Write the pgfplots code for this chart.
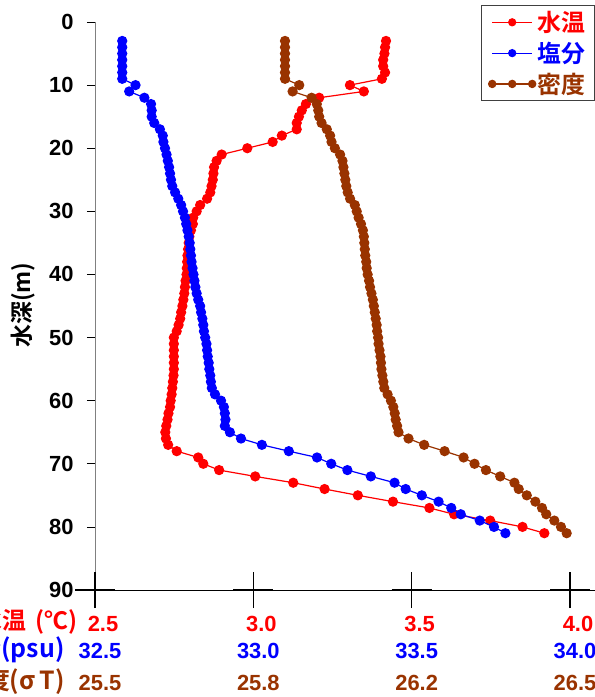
\documentclass[border=0pt]{standalone}
\usepackage{pgfplots}
\usepackage{pgfplotstable}
\pgfplotsset{compat=1.18}
\usepackage{fontspec}
\setmainfont{Liberation Sans}
\newfontfamily\jp{Noto Sans CJK JP}[BoldFont={Noto Sans CJK JP Bold}]
\definecolor{brn}{RGB}{153,51,0}

\pgfplotstableread{
depth temp sal dens
3 3.419 32.586 25.900
4 3.416 32.586 25.900
5 3.414 32.586 25.900
6 3.410 32.586 25.900
7 3.410 32.586 25.900
8 3.416 32.586 25.900
9 3.406 32.586 25.900
10 3.305 32.628 25.930
11 3.349 32.608 25.916
12 3.208 32.656 25.956
13 3.166 32.677 25.967
14 3.153 32.679 25.970
15 3.144 32.679 25.972
16 3.137 32.687 25.977
17 3.137 32.705 25.988
18 3.090 32.714 25.995
19 3.061 32.716 25.998
20 2.981 32.721 26.005
21 2.900 32.726 26.016
22 2.884 32.730 26.021
23 2.876 32.734 26.023
24 2.874 32.737 26.025
25 2.872 32.740 26.027
26 2.868 32.744 26.029
27 2.864 32.753 26.032
28 2.854 32.763 26.037
29 2.832 32.772 26.047
30 2.821 32.778 26.051
31 2.810 32.784 26.055
32 2.809 32.788 26.060
33 2.803 32.792 26.064
34 2.798 32.796 26.066
35 2.796 32.799 26.067
36 2.794 32.801 26.068
37 2.792 32.803 26.069
38 2.791 32.805 26.071
39 2.790 32.808 26.072
40 2.789 32.811 26.074
41 2.786 32.814 26.077
42 2.784 32.817 26.079
43 2.782 32.821 26.082
44 2.779 32.826 26.085
45 2.776 32.832 26.087
46 2.772 32.835 26.089
47 2.769 32.839 26.091
48 2.764 32.842 26.093
49 2.758 32.844 26.094
50 2.749 32.848 26.096
51 2.749 32.852 26.097
52 2.749 32.854 26.099
53 2.749 32.856 26.101
54 2.749 32.859 26.102
55 2.749 32.861 26.103
56 2.748 32.864 26.105
57 2.746 32.866 26.107
58 2.744 32.869 26.109
59 2.742 32.879 26.116
60 2.739 32.898 26.123
61 2.737 32.907 26.128
62 2.732 32.910 26.131
63 2.729 32.912 26.133
64 2.725 32.910 26.136
65 2.722 32.926 26.139
66 2.724 32.961 26.160
67 2.731 33.027 26.193
68 2.758 33.112 26.236
69 2.826 33.201 26.276
70 2.842 33.246 26.299
71 2.892 33.297 26.323
72 3.006 33.371 26.353
73 3.126 33.446 26.383
74 3.225 33.481 26.392
75 3.330 33.532 26.409
76 3.441 33.585 26.427
77 3.556 33.625 26.441
78 3.634 33.655 26.450
79 3.748 33.715 26.467
80 3.850 33.760 26.481
81 3.919 33.796 26.493
}\prof

\begin{document}
\begin{tikzpicture}
\pgfplotsset{
  base/.style={scale only axis, width=500bp, height=568bp,
    at={(95bp,107bp)}, anchor=south west,
    ymin=0, ymax=90, y dir=reverse, clip=false,
    /pgf/number format/assume math mode=true,
    tick label style={font=\bfseries\fontsize{22}{26}\selectfont},
  },
  ser/.style={line width=1.2bp, mark=*, mark size=4.5bp},
}
% temperature axis + depth axis
\begin{axis}[base, xmin=2.5, xmax=4.078947,
  axis x line=bottom, axis y line=left, axis line style={-},
  y axis line style={gray, line width=0.8bp}, x axis line style={black, line width=0.8bp},
  ytick={0,10,...,90},
  tick align=outside, major tick length=8bp,
  ytick style={black, line width=0.6bp},
  yticklabel style={xshift=-10bp},
  xtick={2.5,3.0,3.5,4.0}, xticklabels={2.5,3.0,3.5,4.0},
  xtick style={draw=none},
  xticklabel style={text=red, anchor=center, yshift=-26bp, xshift=8bp},
]
\addplot[red, ser] table[x=temp, y=depth] {\prof};
\end{axis}
% salinity axis
\begin{axis}[base, xmin=32.5, xmax=34.078947,
  axis x line=bottom, axis y line=none, x axis line style={draw=none},
  ytick=\empty,
  xtick={32.5,33.0,33.5,34.0}, xticklabels={32.5,33.0,33.5,34.0},
  tick align=center, major tick length=36bp,
  xtick style={black, line width=1.3bp},
  xticklabel style={text=blue, anchor=center, yshift=-43bp, xshift=5bp},
]
\addplot[blue, ser] table[x=sal, y=depth] {\prof};
\end{axis}
% density axis
\begin{axis}[base, xmin=25.5, xmax=26.552632,
  axis x line=bottom, axis y line=none, x axis line style={draw=none},
  ytick=\empty,
  xtick={25.5,25.833333,26.166667,26.5}, xticklabels={25.5,25.8,26.2,26.5},
  xtick style={draw=none},
  xticklabel style={text=brn, anchor=center, yshift=-91bp, xshift=5bp},
  legend style={at={(1,1)}, anchor=north east, yshift=17bp,
    draw=black!75, line width=0.8bp, inner xsep=7bp, inner ysep=4bp,
    font=\jp\bfseries\fontsize{24}{28}\selectfont, row sep=5bp},
  legend cell align=left,
  legend image code/.code={
    \draw[#1, mark size=3.6bp] plot coordinates {(0bp,0bp) (20bp,0bp) (40bp,0bp)};
    },
]
\addlegendimage{red, line width=1bp, mark=*, mark repeat=2, mark phase=2}
\addlegendentry{\textcolor{red}{水温}}
\addlegendimage{blue, line width=1bp, mark=*, mark repeat=2, mark phase=2}
\addlegendentry{\textcolor{blue}{塩分}}
\addplot[brn, ser] table[x=dens, y=depth] {\prof};
\addlegendentry{\textcolor{brn}{密度}}
\end{axis}
% horizontal cross bars at x ticks
\foreach \xx in {95,253.3,411.7,570}{
  \draw[black, line width=2bp] (\xx bp-20bp,107bp) -- (\xx bp+20bp,107bp);
}
\node[rotate=90, font=\jp\bfseries\fontsize{23}{26}\selectfont] at (23bp,392bp) {水深(m)};
\node[anchor=east, text=red, font=\jp\bfseries\fontsize{24}{28}\selectfont] at (81bp,75bp) {水温\hspace{0.4em}(℃)};
\node[anchor=east, text=blue, font=\jp\bfseries\fontsize{25}{28}\selectfont] at (68bp,47bp) {塩分(psu)};
\node[anchor=east, text=brn, font=\jp\bfseries\fontsize{25}{28}\selectfont] at (68bp,16bp) {密度(σ\,T)};
\pgfresetboundingbox
\path[use as bounding box] (0,0) rectangle (595bp,697bp);
\end{tikzpicture}
\end{document}
